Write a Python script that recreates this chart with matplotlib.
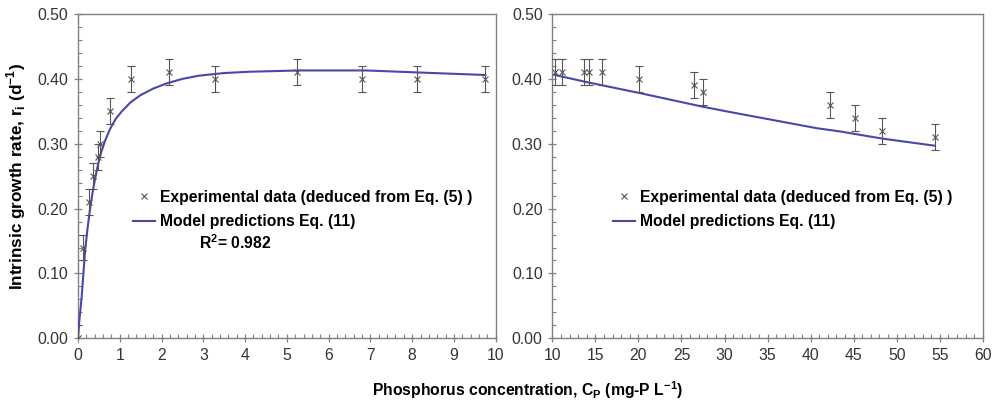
import matplotlib.pyplot as plt
from matplotlib.ticker import MultipleLocator, FormatStrFormatter
from matplotlib.lines import Line2D

plt.rcParams['font.family'] = ['Liberation Sans', 'DejaVu Sans']

# low concentration panel (0-10 mg-P/L)
low_cp = [0, 0.13, 0.26, 0.36, 0.47, 0.53, 0.77, 1.26, 2.18, 3.28, 5.24, 6.81, 8.11, 9.75]
low_r = [0.0, 0.14, 0.21, 0.25, 0.28, 0.30, 0.35, 0.40, 0.41, 0.40, 0.41, 0.40, 0.40, 0.40]
low_err = [0.02] * len(low_cp)

low_model_cp = [0, 0.03, 0.06, 0.09, 0.13, 0.17, 0.23, 0.29, 0.35, 0.41, 0.47, 0.53, 0.65,
                0.77, 0.9, 1.05, 1.26, 1.5, 1.8, 2.12, 2.5, 2.9, 3.5, 4.1, 5.3, 6.9, 8.1, 9.75]
low_model_r = [0.0, 0.025, 0.045, 0.065, 0.1, 0.135, 0.17, 0.2, 0.225, 0.246, 0.265,
               0.282, 0.305, 0.323, 0.338, 0.350, 0.364, 0.375, 0.385, 0.393, 0.400,
               0.405, 0.409, 0.411, 0.413, 0.413, 0.410, 0.406]

# high concentration panel (10-60 mg-P/L)
high_cp = [10.3, 11.1, 13.7, 14.2, 15.8, 20.1, 26.5, 27.5, 42.2, 45.2, 48.3, 54.4]
high_r = [0.41, 0.41, 0.41, 0.41, 0.41, 0.40, 0.39, 0.38, 0.36, 0.34, 0.32, 0.31]
high_err = [0.02] * len(high_cp)

high_model_cp = [10.3, 14.0, 20.2, 27.5, 30.6, 40.7, 43.4, 48.3, 54.4]
high_model_r = [0.406, 0.395, 0.378, 0.357, 0.349, 0.324, 0.319, 0.308, 0.297]

line_col = '#4848a8'
pt_col = '#555555'
spine_col = '#808080'
tick_col = '#333333'
fs = 11.3

fig = plt.figure(figsize=(10.01, 4.03), dpi=100)
ax1 = fig.add_axes([0.0779, 0.1605, 0.4173, 0.8047])
ax2 = fig.add_axes([0.5518, 0.1605, 0.4300, 0.8047])


def style(ax, xmaj, xmin):
    ax.set_ylim(0, 0.5)
    ax.yaxis.set_major_locator(MultipleLocator(0.1))
    ax.yaxis.set_minor_locator(MultipleLocator(0.02))
    ax.yaxis.set_major_formatter(FormatStrFormatter('%.2f'))
    ax.xaxis.set_major_locator(MultipleLocator(xmaj))
    ax.xaxis.set_minor_locator(MultipleLocator(xmin))
    for s in ax.spines.values():
        s.set_color(spine_col)
        s.set_linewidth(1.0)
    ax.tick_params(which='major', direction='inout', length=6, width=0.9,
                   color=spine_col, labelsize=fs, labelcolor=tick_col, pad=4)
    ax.tick_params(which='minor', direction='in', length=3, width=0.8, color=spine_col)


def legend(ax, anchor):
    handles = [Line2D([], [], ls='none', marker='x', ms=4, mew=0.8, color=pt_col),
               Line2D([], [], color=line_col, lw=1.5)]
    labels = ['Experimental data (deduced from Eq. (5) )', 'Model predictions Eq. (11)']
    ax.legend(handles, labels, loc='upper left', bbox_to_anchor=anchor, frameon=False,
              prop={'weight': 'bold', 'size': fs}, handlelength=1.4,
              handletextpad=0.3, labelspacing=0.6, borderaxespad=0, borderpad=0)


# left panel
ax1.plot(low_model_cp, low_model_r, color=line_col, lw=1.5, zorder=3)
ax1.errorbar(low_cp, low_r, yerr=low_err, fmt='x', color=pt_col, ms=4, mew=0.8,
             elinewidth=0.8, capsize=3, capthick=0.8, zorder=4)
ax1.set_xlim(0, 10)
style(ax1, 1, 0.2)
ax1.set_ylabel('Intrinsic growth rate, r$_\\mathregular{i}$ (d$^\\mathregular{-1}$)',
               fontsize=12.3, fontweight='bold', labelpad=7)
legend(ax1, (0.1317, 0.458))
ax1.text(0.2897, 0.294, 'R$^\\mathregular{2}$= 0.982', transform=ax1.transAxes,
         ha='left', va='center', fontsize=fs, fontweight='bold')

# right panel
ax2.plot(high_model_cp, high_model_r, color=line_col, lw=1.5, zorder=3)
ax2.errorbar(high_cp, high_r, yerr=high_err, fmt='x', color=pt_col, ms=4, mew=0.8,
             elinewidth=0.8, capsize=3, capthick=0.8, zorder=4)
ax2.set_xlim(10, 60)
style(ax2, 5, 1)
legend(ax2, (0.141, 0.458))

fig.text(0.527, 0.004, 'Phosphorus concentration, C$_\\mathregular{P}$ (mg-P L$^\\mathregular{-1}$)',
         ha='center', va='bottom', fontsize=fs, fontweight='bold')

fig.savefig('out.png', dpi=100)
